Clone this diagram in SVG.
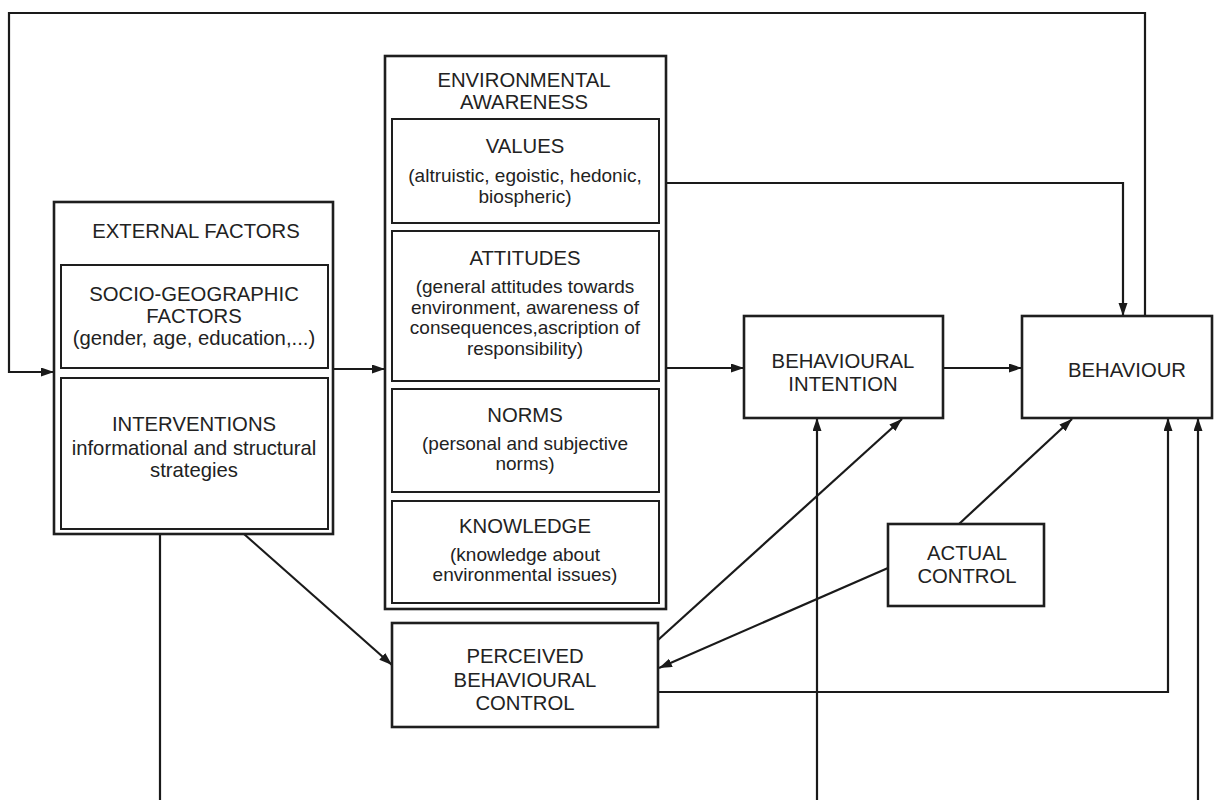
<svg xmlns="http://www.w3.org/2000/svg" width="1214" height="800" viewBox="0 0 1214 800">
<style>
.box{fill:none;stroke:#1e1e1e;stroke-width:2.6}
.inner{fill:none;stroke:#1e1e1e;stroke-width:2}
.t{font-family:"Liberation Sans",Arial,sans-serif;fill:#222;text-anchor:middle}
.h{font-size:20.3px}
.b{font-size:19px}
.e{font-size:20.3px}
.c{fill:none;stroke:#1a1a1a;stroke-width:2.2}
</style>
<defs>
<marker id="ah" markerUnits="userSpaceOnUse" markerWidth="14" markerHeight="10" refX="13" refY="4.5" orient="auto">
<path d="M0,0 L13,4.5 L0,9 z" fill="#1a1a1a"/>
</marker>
</defs>
<rect width="1214" height="800" fill="#fff"/>
<g id="connectors">
<path class="c" d="M1145,316 V13 H9 V372 H54" marker-end="url(#ah)"/>
<path class="c" d="M333,369 H385" marker-end="url(#ah)"/>
<path class="c" d="M666,183 H1123 V316" marker-end="url(#ah)"/>
<path class="c" d="M666,368 H744" marker-end="url(#ah)"/>
<path class="c" d="M943,368 H1022" marker-end="url(#ah)"/>
<path class="c" d="M244,534 L392,665" marker-end="url(#ah)"/>
<path class="c" d="M160,534 V800"/>
<path class="c" d="M817,800 V418" marker-end="url(#ah)"/>
<path class="c" d="M658,640 L902,419" marker-end="url(#ah)"/>
<path class="c" d="M959,524 L1072,419" marker-end="url(#ah)"/>
<path class="c" d="M888,568 L659,668" marker-end="url(#ah)"/>
<path class="c" d="M658,692 H1168 V418" marker-end="url(#ah)"/>
<path class="c" d="M1198,800 V418" marker-end="url(#ah)"/>
</g>
<g id="external-factors">
<rect class="box" x="54" y="202" width="279" height="332"/>
<text class="t h" x="196" y="238">EXTERNAL FACTORS</text>
<rect class="inner" x="61" y="265" width="267" height="103"/>
<text class="t e" x="194" y="301">SOCIO-GEOGRAPHIC</text>
<text class="t e" x="194" y="323">FACTORS</text>
<text class="t e" x="194" y="345">(gender, age, education,...)</text>
<rect class="inner" x="61" y="378" width="267" height="151"/>
<text class="t e" x="194" y="431">INTERVENTIONS</text>
<text class="t e" x="194" y="455">informational and structural</text>
<text class="t e" x="194" y="477">strategies</text>
</g>
<g id="environmental-awareness">
<rect class="box" x="385" y="56" width="281" height="553"/>
<text class="t h" x="524" y="87">ENVIRONMENTAL</text>
<text class="t h" x="524" y="109">AWARENESS</text>
<rect class="inner" x="392" y="119" width="267" height="104"/>
<text class="t h" x="525" y="153">VALUES</text>
<text class="t b" x="525" y="182">(altruistic, egoistic, hedonic,</text>
<text class="t b" x="525" y="203">biospheric)</text>
<rect class="inner" x="392" y="231" width="267" height="150"/>
<text class="t h" x="525" y="265">ATTITUDES</text>
<text class="t b" x="525" y="293">(general attitudes towards</text>
<text class="t b" x="525" y="314">environment, awareness of</text>
<text class="t b" x="525" y="334">consequences,ascription of</text>
<text class="t b" x="525" y="355">responsibility)</text>
<rect class="inner" x="392" y="389" width="267" height="103"/>
<text class="t h" x="525" y="422">NORMS</text>
<text class="t b" x="525" y="450">(personal and subjective</text>
<text class="t b" x="525" y="470">norms)</text>
<rect class="inner" x="392" y="501" width="267" height="102"/>
<text class="t h" x="525" y="533">KNOWLEDGE</text>
<text class="t b" x="525" y="561">(knowledge about</text>
<text class="t b" x="525" y="581">environmental issues)</text>
</g>
<g id="behavioural-intention">
<rect class="box" x="744" y="316" width="199" height="102"/>
<text class="t h" x="843" y="368">BEHAVIOURAL</text>
<text class="t h" x="843" y="391">INTENTION</text>
</g>
<g id="behaviour">
<rect class="box" x="1022" y="316" width="190" height="102"/>
<text class="t h" x="1127" y="377">BEHAVIOUR</text>
</g>
<g id="actual-control">
<rect class="box" x="888" y="524" width="156" height="82"/>
<text class="t h" x="967" y="560">ACTUAL</text>
<text class="t h" x="967" y="583">CONTROL</text>
</g>
<g id="perceived-behavioural-control">
<rect class="box" x="392" y="623" width="266" height="104"/>
<text class="t h" x="525" y="663">PERCEIVED</text>
<text class="t h" x="525" y="687">BEHAVIOURAL</text>
<text class="t h" x="525" y="710">CONTROL</text>
</g>
</svg>
